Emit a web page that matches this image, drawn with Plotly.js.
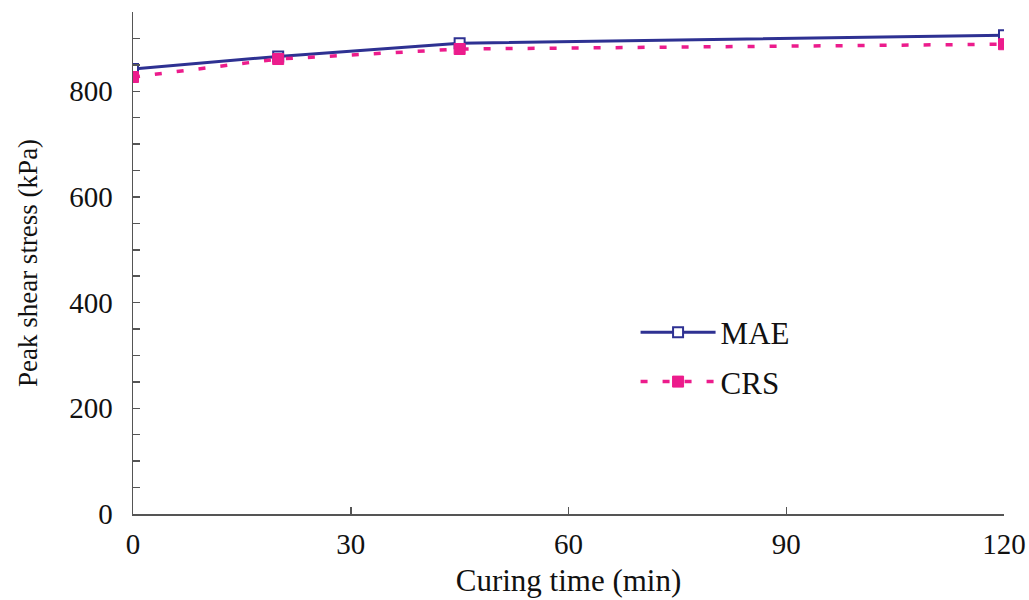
<!DOCTYPE html>
<html>
<head>
<meta charset="utf-8">
<script src="https://cdn.plot.ly/plotly-3.0.1.min.js"></script>
<style>html,body{margin:0;padding:0;background:#fff;}#chart{width:1029px;height:600px;}</style>
</head>
<body>
<div id="chart"></div>
<script>
const curingTime = [0, 20, 45, 120];
const maeStress = [842, 866, 891, 906];
const crsStress = [827, 861, 880, 889];
const seriesNames = ['MAE', 'CRS'];

const fontFam = '"Liberation Serif", "Times New Roman", serif';

const traces = [
  {
    x: curingTime, y: maeStress, name: seriesNames[0], type: 'scatter', mode: 'lines+markers',
    legendgroup: 'a',
    line: {color: '#2e3192', width: 3},
    marker: {symbol: 'square', size: 10, color: '#ffffff', line: {color: '#2e3192', width: 2}}
  },
  {
    x: curingTime, y: crsStress, name: seriesNames[1], type: 'scatter', mode: 'lines+markers',
    legendgroup: 'b',
    line: {color: '#ec1c8c', width: 3.5, dash: '7px,15px'},
    marker: {symbol: 'square', size: 11, color: '#ec1c8c', line: {color: '#ec1c8c', width: 1}}
  }
];

const layout = {
  width: 1029, height: 600,
  margin: {l: 133, r: 25, t: 12, b: 86},
  paper_bgcolor: '#fff', plot_bgcolor: '#fff',
  font: {family: fontFam, size: 29, color: '#111'},
  showlegend: true,
  legend: {
    x: 0.577, y: 0.415, xanchor: 'left', yanchor: 'top',
    bgcolor: 'rgba(0,0,0,0)', font: {family: fontFam, size: 31, color: '#111'},
    traceorder: 'grouped', tracegroupgap: 6, itemwidth: 75
  },
  xaxis: {
    range: [0, 120], tickvals: [0, 30, 60, 90, 120], ticks: 'inside', ticklen: 7, tickwidth: 1.5, tickcolor: '#555',
    showline: true, linecolor: '#555', linewidth: 1.5, showgrid: false, zeroline: false,
    ticklabelstandoff: 4,
    tickfont: {family: fontFam, size: 29, color: '#111'},
    title: {text: 'Curing time (min)', font: {family: fontFam, size: 31, color: '#111'}, standoff: 10}
  },
  yaxis: {
    range: [0, 950], tickvals: [0, 200, 400, 600, 800], ticks: 'inside', ticklen: 7, tickwidth: 1.5, tickcolor: '#555',
    minor: {dtick: 50, ticks: 'inside', ticklen: 7, tickwidth: 1.5, tickcolor: '#555'},
    showline: true, linecolor: '#555', linewidth: 1.5, showgrid: false, zeroline: false,
    ticklabelstandoff: 13,
    tickfont: {family: fontFam, size: 29, color: '#111'},
    title: {text: 'Peak shear stress (kPa)', font: {family: fontFam, size: 27, color: '#111'}, standoff: 24}
  }
};

Plotly.newPlot('chart', traces, layout, {displayModeBar: false, staticPlot: true});
</script>
</body>
</html>
